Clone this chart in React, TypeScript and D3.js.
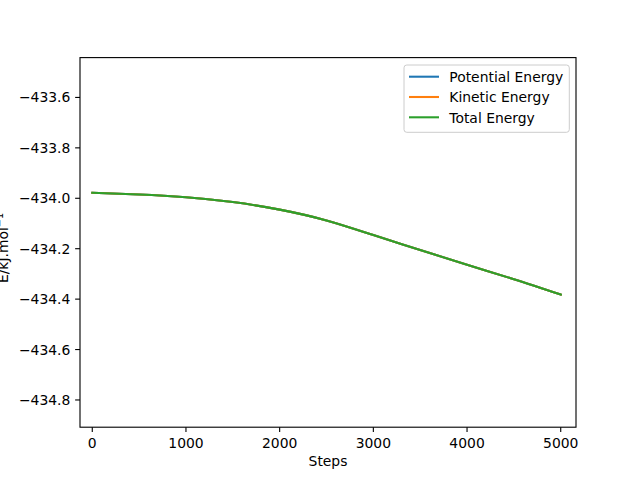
import * as d3 from 'd3';

// values (all three series lie on top of each other)
const steps = [0, 500, 1000, 1500, 2000, 2500, 3000, 3500, 4000, 4500, 5000];
const totalEnergy = [-433.978, -433.985, -433.996, -434.015, -434.045, -434.088, -434.146, -434.205, -434.264, -434.321, -434.382];
const potentialEnergy = [-433.978, -433.985, -433.996, -434.015, -434.045, -434.088, -434.146, -434.205, -434.264, -434.321, -434.382];
const kineticEnergy = [-433.978, -433.985, -433.996, -434.015, -434.045, -434.088, -434.146, -434.205, -434.264, -434.321, -434.382];
const seriesNames = ['Potential Energy', 'Kinetic Energy', 'Total Energy'];
const xTicks = [0, 1000, 2000, 3000, 4000, 5000];

const colors = ['#1f77b4', '#ff7f0e', '#2ca02c'];
const font = '"DejaVu Sans", sans-serif';
const fs = 13.9;

export default function App() {
  const width = 640;
  const height = 480;
  const margin = { top: 57.6, right: 64, bottom: 52.8, left: 80 };
  const innerW = width - margin.left - margin.right;
  const innerH = height - margin.top - margin.bottom;

  const xScale = d3.scaleLinear().domain([-131, 5163]).range([0, innerW]);
  const yScale = d3.scaleLinear().domain([-434.908, -433.442]).range([innerH, 0]);
  const yTicks = yScale.ticks(8).filter(t => t >= -434.85 && t <= -433.55);
  const fmtY = d3.format('.1f');

  const series = [potentialEnergy, kineticEnergy, totalEnergy];
  const line = d3.line<number>()
    .x((_, i) => xScale(steps[i]))
    .y(d => yScale(d))
    .curve(d3.curveNatural);

  const tick = 4.86;
  const legendX = 404 - margin.left;
  const legendY = 65 - margin.top;

  return (
    <svg
      width={width}
      height={height}
      style={{ position: 'absolute', left: 0, top: 0, background: '#fff' }}
      fontFamily={font}
    >
      <rect width={width} height={height} fill="#fff" />
      <g transform={`translate(${margin.left},${margin.top})`}>
        <defs>
          <clipPath id="plot">
            <rect width={innerW} height={innerH} />
          </clipPath>
        </defs>

        {/* lines */}
        <g clipPath="url(#plot)">
          {series.map((s, i) => (
            <path key={i} d={line(s) || ''} fill="none" stroke={colors[i]} strokeWidth={2.08} strokeLinecap="square" />
          ))}
        </g>

        {/* frame */}
        <rect width={innerW} height={innerH} fill="none" stroke="#000" strokeWidth={1.11} />

        {/* x axis */}
        {xTicks.map(t => (
          <g key={t} transform={`translate(${xScale(t)},${innerH})`}>
            <line y1={0} y2={tick} stroke="#000" strokeWidth={1.11} />
            <text y={21.1} textAnchor="middle" fontSize={fs} fill="#000">{t}</text>
          </g>
        ))}
        <text x={innerW / 2} y={466 - margin.top} textAnchor="middle" fontSize={fs} fill="#000">Steps</text>

        {/* y axis */}
        {yTicks.map(t => (
          <g key={t} transform={`translate(0,${yScale(t)})`}>
            <line x1={-tick} x2={0} stroke="#000" strokeWidth={1.11} />
            <text x={-9.7} y={5} textAnchor="end" fontSize={fs} fill="#000">{fmtY(t)}</text>
          </g>
        ))}

        {/* legend */}
        <rect x={legendX} y={legendY} width={165.3} height={67.3} rx={2.8} fill="#fff" fillOpacity={0.8} stroke="#cccccc" strokeWidth={1} />
        {seriesNames.map((name, i) => {
          const cy = 76.7 - margin.top + i * 20.3;
          return (
            <g key={name}>
              <line x1={409 - margin.left} x2={439 - margin.left} y1={cy} y2={cy} stroke={colors[i]} strokeWidth={2.08} />
              <text x={449.3 - margin.left} y={cy + 5.3} fontSize={fs} fill="#000">{name}</text>
            </g>
          );
        })}
      </g>

      {/* y label, partly outside the figure as in the original */}
      <text transform="translate(8.3,248) rotate(-90)" textAnchor="middle" fontSize={fs} fill="#000">
        E/kJ.mol<tspan fontSize={fs * 0.7} dy={-5.5}>−1</tspan>
      </text>
    </svg>
  );
}
